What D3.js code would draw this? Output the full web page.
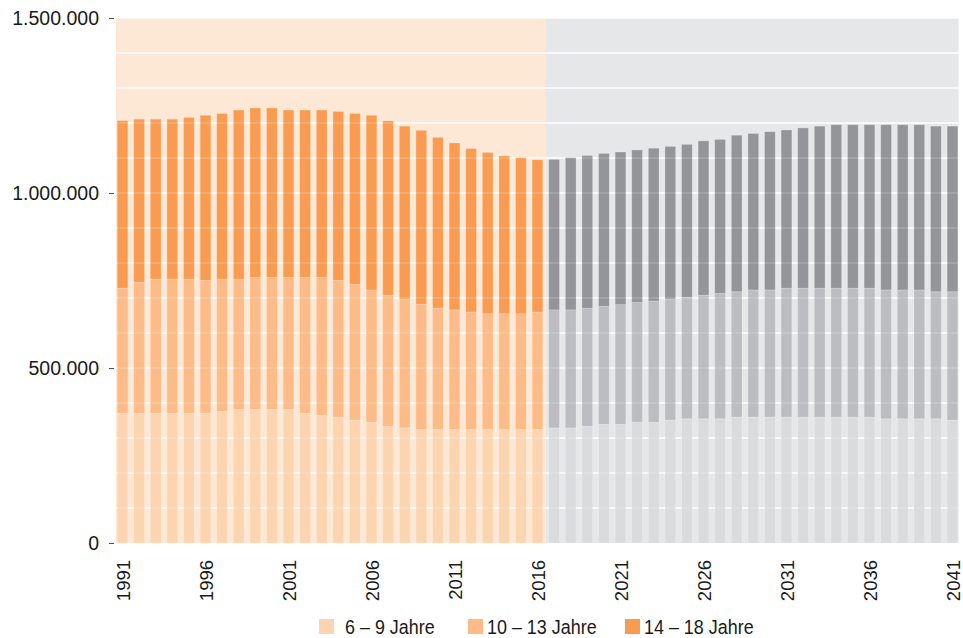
<!DOCTYPE html>
<html>
<head>
<meta charset="utf-8">
<script src="https://cdn.jsdelivr.net/npm/d3@7"></script>
<style>
  body { margin: 0; background: #fff; }
  text { font-family: "Liberation Sans", Arial, sans-serif; fill: #1a1a1a; }
</style>
</head>
<body>
<svg id="chart" width="963" height="638"></svg>
<script>
// Years 1991 - 2041, values in persons
var years = d3.range(1991, 2042);
var lastObserved = 2016;

var age6to9 = [
  371000, 371000, 371000, 371000, 371000, 371000, 376000, 382000, 382000, 382000,
  382000, 371000, 365000, 360000, 351000, 345000, 333000, 329000, 324000, 324000,
  324000, 324000, 324000, 324000, 324000, 324000, 329000, 329000, 334000, 339000,
  339000, 345000, 345000, 351000, 355000, 355000, 355000, 360000, 360000, 360000,
  360000, 360000, 360000, 360000, 360000, 360000, 355000, 355000, 355000, 355000,
  351000
];
var age10to13 = [
  357000, 374000, 383000, 383000, 383000, 379000, 378000, 372000, 377000, 377000,
  377000, 388000, 394000, 390000, 388000, 378000, 375000, 368000, 358000, 347000,
  342000, 336000, 331000, 331000, 331000, 336000, 337000, 337000, 337000, 337000,
  342000, 342000, 346000, 346000, 347000, 353000, 358000, 358000, 363000, 363000,
  368000, 368000, 368000, 368000, 368000, 368000, 368000, 368000, 368000, 363000,
  367000
];
var age14to18 = [
  479000, 466000, 457000, 457000, 462000, 472000, 473000, 483000, 484000, 484000,
  478000, 478000, 478000, 483000, 488000, 499000, 498000, 494000, 497000, 488000,
  477000, 467000, 461000, 451000, 446000, 435000, 430000, 435000, 436000, 437000,
  436000, 436000, 437000, 436000, 437000, 441000, 440000, 447000, 447000, 452000,
  452000, 458000, 463000, 467000, 467000, 467000, 472000, 472000, 472000, 473000,
  473000
];

var seriesKeys = ['a', 'b', 'c'];
var legendLabels = ['6 \u2013 9 Jahre', '10 \u2013 13 Jahre', '14 \u2013 18 Jahre'];
var yTicks = [0, 500000, 1000000, 1500000];
var xTicks = [1991, 1996, 2001, 2006, 2011, 2016, 2021, 2026, 2031, 2036, 2041];

var orangeColors = ['#fdd4b0', '#fcbb87', '#f99c51'];
var greyColors = ['#dadbdd', '#bcbdc0', '#949598'];

var svg = d3.select('#chart');
var plotLeft = 116, plotRight = 959, plotTop = 18, plotBottom = 543;

var rows = years.map(function(year, i) {
  return { year: year, a: age6to9[i], b: age10to13[i], c: age14to18[i] };
});
var stacked = d3.stack().keys(seriesKeys)(rows);

var x = d3.scaleBand()
  .domain(years)
  .range([plotLeft, plotRight])
  .paddingInner(0.355)
  .paddingOuter(0.07);

var y = d3.scaleLinear()
  .domain([0, 1500000])
  .range([plotBottom, plotTop]);

// split between observed (orange) and projected (grey) period
var splitX = x(lastObserved + 1) - x.step() * x.paddingInner() / 2;

svg.append('rect')
  .attr('x', plotLeft).attr('y', y(1500000))
  .attr('width', splitX - plotLeft).attr('height', y(0) - y(1500000))
  .attr('fill', '#fde7d5');
svg.append('rect')
  .attr('x', splitX).attr('y', y(1500000))
  .attr('width', plotRight - 0.5 - splitX).attr('height', y(0) - y(1500000))
  .attr('fill', '#e6e7e8');

var gridValues = d3.range(100000, 1500001, 100000);

function drawGrid(opacity) {
  svg.append('g')
    .selectAll('line')
    .data(gridValues)
    .enter()
    .append('line')
    .attr('x1', plotLeft)
    .attr('x2', plotRight - 0.5)
    .attr('y1', function(d) { return y(d); })
    .attr('y2', function(d) { return y(d); })
    .attr('stroke', '#fff')
    .attr('stroke-opacity', opacity)
    .attr('stroke-width', 1.4);
}

drawGrid(1);

stacked.forEach(function(layer, k) {
  svg.append('g')
    .selectAll('rect')
    .data(layer)
    .enter()
    .append('rect')
    .attr('x', function(d) { return x(d.data.year); })
    .attr('width', x.bandwidth())
    .attr('y', function(d) { return y(d[1]); })
    .attr('height', function(d) { return y(d[0]) - y(d[1]); })
    .attr('fill', function(d) {
      return d.data.year > lastObserved ? greyColors[k] : orangeColors[k];
    })
    .attr('stroke', '#fff')
    .attr('stroke-opacity', 0.25)
    .attr('stroke-width', 0.8);
});

// faint grid over the bars
drawGrid(0.18);

var de = d3.formatLocale({ decimal: ',', thousands: '.', grouping: [3], currency: ['', ' \u20ac'] });

var yAxis = svg.append('g')
  .attr('transform', 'translate(114,0)')
  .call(d3.axisLeft(y).tickValues(yTicks).tickSize(5).tickPadding(10).tickFormat(de.format(',d')));
yAxis.select('.domain').remove();
yAxis.selectAll('line').attr('stroke', '#555');
yAxis.selectAll('text')
  .style('font-size', '19.5px')
  .attr('fill', '#1a1a1a');

var xAxis = svg.append('g')
  .attr('transform', 'translate(0,' + plotBottom + ')')
  .call(d3.axisBottom(x).tickValues(xTicks).tickSize(0));
xAxis.select('.domain').remove();
xAxis.selectAll('text')
  .attr('transform', 'rotate(-90)')
  .attr('x', -17)
  .attr('y', 1.5)
  .attr('dy', '0.35em')
  .attr('text-anchor', 'end')
  .style('font-size', '18.5px')
  .attr('fill', '#1a1a1a');

var swatchX = [319, 468, 625];
var labelX = [345, 487, 644];
var legend = svg.append('g')
  .selectAll('g')
  .data(legendLabels)
  .enter()
  .append('g');

legend.append('rect')
  .attr('x', function(d, i) { return swatchX[i]; })
  .attr('y', 619)
  .attr('width', 15)
  .attr('height', 15)
  .attr('fill', function(d, i) { return orangeColors[i]; });

// condensed look: squeeze the label horizontally
legend.append('text')
  .attr('transform', function(d, i) { return 'translate(' + labelX[i] + ',634) scale(0.92,1)'; })
  .style('font-size', '19.5px')
  .text(function(d) { return d; });
</script>
</body>
</html>
